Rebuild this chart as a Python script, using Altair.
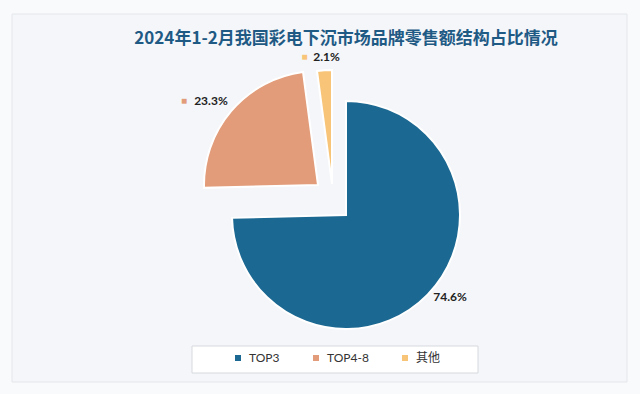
import altair as alt
import pandas as pd

# ---- data ----
title_text = ["2024年1-2月我国彩电下沉市场品牌零售额结构占比情况"]
categories = ["TOP3", "TOP4-8", "其他"]
shares = [74.6, 23.3, 2.1]
order = [0, 1, 2]

# ---- styles ----
colors = ["#1b6892", "#e29c7a", "#f8c478"]
CX, CY, R = 346, 215, 114
LATIN = "Lato, 'Noto Sans CJK SC', sans-serif"
CJK = "'Noto Sans CJK SC', sans-serif"

df = pd.DataFrame({"category": categories, "share": shares, "order": order})
total = sum(shares)

theta_scale = alt.Scale(domain=[0, total])
color_scale = alt.Scale(domain=categories, range=colors)

legend_spec = alt.Legend(
    title=None, orient="none", legendX=232, legendY=352, direction="horizontal",
    symbolType="square", symbolSize=36, symbolStrokeWidth=0,
    labelFontSize=12, labelColor="#333333", labelFont=LATIN,
    columnPadding=30, labelOffset=5, padding=0,
)

base = (
    alt.Chart(df)
    .transform_window(cum="sum(share)", sort=[alt.SortField("order", order="ascending")], frame=[None, 0])
    .transform_calculate(
        start="datum.cum - datum.share",
        mid="datum.cum - datum.share / 2",
        label="format(datum.share, '.1f') + '%'",
    )
)


def slice_layer(cat, dx, dy):
    return (
        base.transform_filter(alt.datum.category == cat)
        .mark_arc(outerRadius=R, stroke="white", strokeWidth=2)
        .encode(
            theta=alt.Theta("start:Q", scale=theta_scale, stack=None),
            theta2=alt.Theta2("cum:Q"),
            color=alt.Color("category:N", scale=color_scale, legend=legend_spec),
            x=alt.value(CX + dx),
            y=alt.value(CY + dy),
        )
    )


def label_layer(cat, radius, dx, dy):
    return (
        base.transform_filter(alt.datum.category == cat)
        .mark_text(radius=radius, dx=dx, dy=dy, fontSize=12, fontWeight="bold",
                   color="#222222", font=LATIN)
        .encode(
            theta=alt.Theta("mid:Q", scale=theta_scale, stack=None),
            text=alt.Text("label:N"),
            x=alt.value(CX),
            y=alt.value(CY),
        )
    )


def marker_layer(cat, radius, dx, dy, col):
    return (
        base.transform_filter(alt.datum.category == cat)
        .mark_text(radius=radius, dx=dx, dy=dy, fontSize=10, color=col, text="■")
        .encode(
            theta=alt.Theta("mid:Q", scale=theta_scale, stack=None),
            x=alt.value(CX),
            y=alt.value(CY),
        )
    )


one = pd.DataFrame({"t": title_text})

panel = alt.Chart(one).mark_rect(fill="#f4f6f9", stroke="#e4e7eb", strokeWidth=1).encode(
    x=alt.value(12), x2=alt.value(627), y=alt.value(14), y2=alt.value(382)
)
legend_box = alt.Chart(one).mark_rect(fill="#ffffff", stroke="#d6d9de", strokeWidth=1).encode(
    x=alt.value(192), x2=alt.value(478), y=alt.value(346), y2=alt.value(373)
)
title = alt.Chart(one).mark_text(
    fontSize=17, fontWeight="bold", color="#1f5a85", font=CJK, baseline="middle"
).encode(text="t:N", x=alt.value(346), y=alt.value(39))

chart = alt.layer(
    panel,
    legend_box,
    title,
    slice_layer("TOP3", 0, 0),
    slice_layer("TOP4-8", -28, -30),
    slice_layer("其他", -14, -31),
    label_layer("TOP3", 130, 11, -9),
    label_layer("TOP4-8", 175, -2, 0),
    label_layer("其他", 158, -9, 0),
    marker_layer("TOP4-8", 175, -29, 0, colors[1]),
    marker_layer("其他", 158, -31, 0, colors[2]),
).properties(
    width=640, height=394,
    autosize=alt.AutoSizeParams(type="none"),
    padding=0,
    background="#f9fafb",
).configure_view(stroke=None)

chart.save("out.html", embed_options={"renderer": "svg", "actions": False})
